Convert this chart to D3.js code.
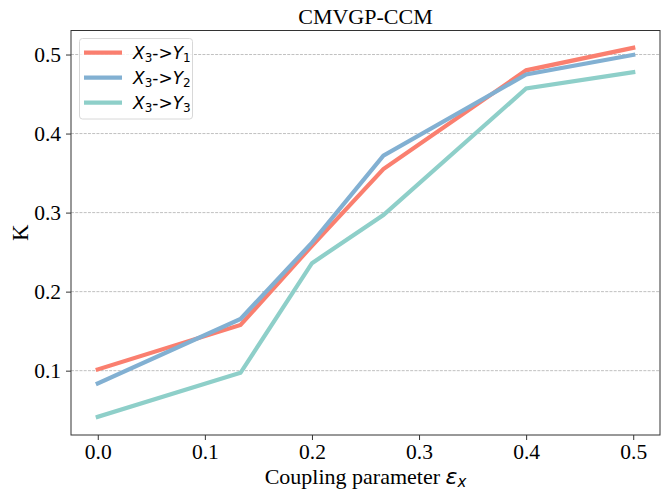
<!DOCTYPE html>
<html><head><meta charset="utf-8">
<script src="https://cdn.jsdelivr.net/npm/d3@7"></script>
<style>body{margin:0;background:#fff}</style>
</head><body>
<svg id="c" width="661" height="491"></svg>
<script>
const xValues = [0, 0.1333, 0.2, 0.2667, 0.4, 0.5];
const seriesY1 = [0.1016, 0.1578, 0.258, 0.355, 0.480, 0.5085];
const seriesY2 = [0.0839, 0.1654, 0.262, 0.372, 0.4747, 0.4996];
const seriesY3 = [0.0416, 0.0973, 0.236, 0.297, 0.457, 0.4776];
const seriesNames = [["X","3","Y","1"],["X","3","Y","2"],["X","3","Y","3"]];
const colors = ["#FA7F6F", "#82B0D2", "#8ECFC9"];
const xTicks = [0, 0.1, 0.2, 0.3, 0.4, 0.5];
const yTicks = [0.1, 0.2, 0.3, 0.4, 0.5];

const svg = d3.select("#c");
const L = 71, R = 660, T = 30.5, B = 435;
const x = d3.scaleLinear().domain([-0.025, 0.525]).range([L, R]);
const y = d3.scaleLinear().domain([0.0186, 0.5304]).range([B, T]);
const serif = "'Liberation Serif','Times New Roman',serif";

// grid
svg.append("g").selectAll("line").data(yTicks).join("line")
  .attr("x1", L).attr("x2", R).attr("y1", d => y(d)).attr("y2", d => y(d))
  .attr("stroke", "#b0b0b0").attr("stroke-width", 0.8).attr("stroke-dasharray", "2.96,1.28");

// lines
const data = [seriesY1, seriesY2, seriesY3];
const line = d3.line().x((d, i) => x(xValues[i])).y(d => y(d));
svg.append("g").selectAll("path").data(data).join("path")
  .attr("d", d => line(d)).attr("fill", "none")
  .attr("stroke", (d, i) => colors[i]).attr("stroke-width", 4.2)
  .attr("stroke-linejoin", "miter").attr("stroke-linecap", "square");

// axes
const xAxis = svg.append("g").attr("transform", `translate(0,${B})`)
  .call(d3.axisBottom(x).tickValues(xTicks).tickFormat(d3.format(".1f")).tickSize(5).tickPadding(4));
const yAxis = svg.append("g").attr("transform", `translate(${L},0)`)
  .call(d3.axisLeft(y).tickValues(yTicks).tickFormat(d3.format(".1f")).tickSize(5).tickPadding(5));
[xAxis, yAxis].forEach(a => {
  a.attr("font-family", null).attr("font-size", null);
  a.select(".domain").remove();
  a.selectAll("line").attr("stroke", "#333").attr("stroke-width", 1);
  a.selectAll("text").style("font-family", serif).style("font-size", "21.5px").attr("fill", "#000");
});
// spines
svg.append("rect").attr("x", L).attr("y", T).attr("width", R - L).attr("height", B - T)
  .attr("fill", "none").attr("stroke", "#333").attr("stroke-width", 1);

// title & labels
svg.append("text").attr("x", (L + R) / 2).attr("y", 24).attr("text-anchor", "middle")
  .style("font-family", serif).style("font-size", "22px").text("CMVGP-CCM");
const xl = svg.append("text").attr("x", (L + R) / 2).attr("y", 484).attr("text-anchor", "middle")
  .style("font-family", serif).style("font-size", "22px");
xl.append("tspan").text("Coupling parameter ");
xl.append("tspan").style("font-family", "'DejaVu Sans',sans-serif").attr("font-style", "italic").text("ε");
xl.append("tspan").style("font-family", "'DejaVu Sans',sans-serif").attr("font-style", "italic")
  .style("font-size", "15px").attr("dy", 3).text("x");
svg.append("text").attr("transform", `translate(28,${(T + B) / 2}) rotate(-90)`)
  .attr("text-anchor", "middle").style("font-family", serif).style("font-size", "23px").text("K");

// legend
const lg = svg.append("g");
lg.append("rect").attr("x", 79.5).attr("y", 38.5).attr("width", 113).attr("height", 80.5)
  .attr("rx", 3).attr("fill", "#fff").attr("fill-opacity", 0.8).attr("stroke", "#d8d8d8");
seriesNames.forEach((n, i) => {
  const yy = 52.7 + i * 25;
  lg.append("line").attr("x1", 84).attr("x2", 122).attr("y1", yy).attr("y2", yy)
    .attr("stroke", colors[i]).attr("stroke-width", 4.2);
  const t = lg.append("text").attr("x", 133).attr("y", yy + 6)
    .style("font-family", "'DejaVu Sans',sans-serif").style("font-size", "17px").attr("fill", "#000");
  t.append("tspan").attr("font-style", "italic").text(n[0]);
  t.append("tspan").style("font-size", "12px").attr("dy", 3).text(n[1]);
  t.append("tspan").attr("dy", -3).text("->");
  t.append("tspan").attr("font-style", "italic").text(n[2]);
  t.append("tspan").style("font-size", "12px").attr("dy", 3).text(n[3]);
});
</script>
</body></html>
